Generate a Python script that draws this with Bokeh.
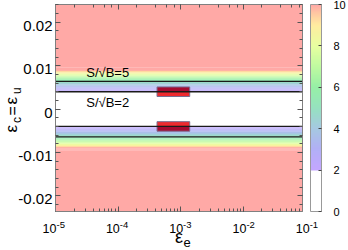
import math
import numpy as np
from bokeh.plotting import figure
from bokeh.layouts import row, column
from bokeh.models import (LogAxis, LinearAxis, ColorBar, LinearColorMapper,
                          ColumnDataSource, FixedTicker, Range1d, LogTicker)
from bokeh.core.properties import value
from bokeh.embed import file_html
from bokeh.resources import INLINE

# ---------------- data ----------------
# |eps_c| band edges and the S/sqrt(B) value in each band (symmetric in eps_c)
band_edges = [0.0, 0.0035, 0.00375, 0.004, 0.00425, 0.0045, 0.00475, 0.005, 0.00525,
              0.0055, 0.00575, 0.006, 0.00625, 0.0065, 0.00675, 0.007, 0.00725, 0.0075,
              0.00775, 0.008, 0.00825, 0.0085, 0.00875, 0.009, 0.00925, 0.0095, 0.025]
band_sig = [1.0, 1.64, 1.88, 2.13, 2.39, 2.67, 2.97, 3.28, 3.61, 3.96, 4.31, 4.69, 5.08,
            5.49, 5.91, 6.35, 6.80, 7.27, 7.75, 8.25, 8.77, 9.30, 9.85, 10.4, 11.0, 12.0]
eps_e_range = [1e-5, 0.089]
eps_c_range = [-0.0236, 0.0241]
contour_labels = ["S/\u221aB=5", "S/\u221aB=2"]
contour_eps = [0.0064, 0.0040]
label_x = [3.1e-5, 3.1e-5]
label_y = [0.00845, 0.00155]
box_x = [4.2e-4, 1.4e-3]
box_inner = [0.0029, 0.0040]
box_outer = [0.0040, 0.0051]
y_ticks = [-0.02, -0.01, 0.0, 0.01, 0.02]
y_tick_labels = ["-0.02", "-0.01", "0", "0.01", "0.02"]
x_ticks = [1e-5, 1e-4, 1e-3, 1e-2, 1e-1]
x_tick_base = ["10", "10", "10", "10", "10"]
x_tick_exp = ["-5", "-4", "-3", "-2", "-1"]
cbar_ticks = [0, 2, 4, 6, 8, 10]

FONT = "Liberation Sans"

# ---------------- palette ----------------
anchors = [(2.0, (196, 166, 255)), (3.0, (178, 176, 246)), (4.0, (166, 200, 226)),
           (5.0, (150, 226, 192)), (6.0, (150, 240, 166)), (7.0, (192, 250, 160)),
           (8.0, (232, 255, 160)), (9.0, (255, 236, 160)), (9.5, (255, 205, 162)),
           (10.0, (255, 168, 166))]
N = 250
palette = []
for i in range(N):
    v = (i + 0.5) * 10.0 / N
    if v < 2.0:
        palette.append("#ffffff")
        continue
    for (v0, c0), (v1, c1) in zip(anchors[:-1], anchors[1:]):
        if v0 <= v <= v1:
            t = (v - v0) / (v1 - v0)
            c = tuple(int(round(a + (b - a) * t)) for a, b in zip(c0, c1))
            break
    else:
        c = anchors[-1][1]
    palette.append("#%02x%02x%02x" % c)

mapper = LinearColorMapper(palette=palette, low=0, high=10, high_color=palette[-1])

# ---------------- layout geometry (page pixels) ----------------
W, H = 348, 250
YLW = 53            # width of the strip holding y tick labels and y title
MH = 218            # height of the main row
FL, FT, FR, FB = 55, 4, 305, 211

def strip(width, height, **kw):
    f = figure(width=width, height=height, output_backend="svg", toolbar_location=None,
               **kw)
    f.axis.visible = False
    f.grid.visible = False
    f.outline_line_color = None
    f.background_fill_color = None
    f.border_fill_color = None
    return f

def ydata(py):
    return eps_c_range[1] - (py - FT) / (FB - FT) * (eps_c_range[1] - eps_c_range[0])

# ---------------- main plot ----------------
p = figure(width=W - YLW, height=MH, x_axis_type="log",
           x_range=Range1d(eps_e_range[0], eps_e_range[1]),
           y_range=Range1d(eps_c_range[0], eps_c_range[1]),
           output_backend="svg", toolbar_location=None,
           min_border_left=FL - YLW, min_border_right=W - FR, min_border_top=FT,
           min_border_bottom=MH - FB)
p.grid.visible = False
p.outline_line_color = "#808080"
p.background_fill_color = "white"

lefts, rights, bottoms, tops, sigs = [], [], [], [], []
for lo, hi, s in zip(band_edges[:-1], band_edges[1:], band_sig):
    for b, t in ((lo, hi), (-hi, -lo)):
        lefts.append(eps_e_range[0]); rights.append(eps_e_range[1])
        bottoms.append(b); tops.append(t); sigs.append(s)
src = ColumnDataSource(dict(left=lefts, right=rights, bottom=bottoms, top=tops, sig=sigs))
p.quad(left="left", right="right", bottom="bottom", top="top", source=src,
       fill_color={"field": "sig", "transform": mapper}, line_color=None)

for sgn in (1, -1):
    lo_in, hi_in = sorted((sgn * box_inner[0], sgn * box_inner[1]))
    lo_out, hi_out = sorted((sgn * box_outer[0], sgn * box_outer[1]))
    p.quad(left=box_x[0], right=box_x[1], bottom=lo_in, top=hi_in,
           fill_color="#ee2a2e", line_color=None)
    p.quad(left=box_x[0], right=box_x[1], bottom=lo_out, top=hi_out,
           fill_color="#a50a30", line_color=None)
    p.quad(left=box_x[0], right=box_x[1], bottom=min(lo_in, lo_out), top=max(hi_in, hi_out),
           fill_color=None, line_color="#7a6e90", line_width=1)

for c in contour_eps:
    for sgn in (1, -1):
        p.line(x=eps_e_range, y=[sgn * c, sgn * c], line_color="#1a1a1a", line_width=1.3)

p.text(x=label_x, y=label_y, text=contour_labels, text_font=value(FONT),
       text_font_size="13px", text_baseline="middle", text_align="left", text_color="black")

def style_axis(ax):
    ax.axis_line_color = "#808080"
    ax.major_tick_line_color = "#555555"
    ax.minor_tick_line_color = "#555555"
    ax.major_tick_in = 5
    ax.major_tick_out = 0
    ax.minor_tick_in = 3
    ax.minor_tick_out = 0
    ax.major_label_text_font_size = "1px"
    ax.major_label_text_color = None
    ax.major_label_standoff = 0

minor_y = [round(-0.024 + 0.002 * i, 4) for i in range(25)]
p.yaxis.ticker = FixedTicker(ticks=y_ticks, minor_ticks=minor_y)
style_axis(p.yaxis[0])
style_axis(p.xaxis[0])

ax_top = LogAxis(ticker=LogTicker())
style_axis(ax_top)
p.add_layout(ax_top, "above")
ax_right = LinearAxis(ticker=FixedTicker(ticks=y_ticks, minor_ticks=minor_y))
style_axis(ax_right)
p.add_layout(ax_right, "right")

cb = ColorBar(color_mapper=mapper, width=11, padding=0, margin=0, location=(8, 0),
              ticker=FixedTicker(ticks=cbar_ticks),
              major_label_text_font=FONT, major_label_text_font_size="11px",
              major_label_text_color="black", bar_line_color="#999999",
              major_tick_line_color="#444444", major_tick_in=3, major_tick_out=0,
              label_standoff=12, background_fill_color=None, border_line_color=None)
p.add_layout(cb, "right")

# ---------------- left strip: y tick labels + y title ----------------
yl = strip(YLW, MH, x_range=Range1d(0, YLW),
           y_range=Range1d(eps_c_range[0], eps_c_range[1]),
           min_border_left=0, min_border_right=0, min_border_top=FT,
           min_border_bottom=MH - FB)
yl.text(x=[52] * len(y_ticks), y=y_ticks, text=y_tick_labels, text_font=value(FONT),
        text_font_size="15px", text_align="right", text_baseline="middle",
        y_offset=3.5, text_color="black")
yt_text = ["\u03b5", "c", "=", "\u03b5", "u"]
yt_px = [10.5, 16.5, 11.5, 10.5, 16.8]          # centre line x on the page
yt_py = [132.0, 122.5, 115.0, 104.0, 93.5]      # start y on the page
yt_size = ["17px", "12px", "16px", "17px", "12px"]
yl.text(x=yt_px, y=[ydata(v) for v in yt_py], text=yt_text, text_font=value(FONT),
        text_font_size=yt_size, angle=math.pi / 2, text_align="left",
        text_baseline="middle", text_color="black")

# ---------------- bottom strip: x tick labels + x title ----------------
XH = H - MH
dpp = math.log10(eps_e_range[1] / eps_e_range[0]) / (FR - FL)
xlo = 10 ** (math.log10(eps_e_range[0]) - FL * dpp)
xhi = 10 ** (math.log10(eps_e_range[1]) + (W - FR) * dpp)
xl = strip(W, XH, x_axis_type="log", x_range=Range1d(xlo, xhi), y_range=Range1d(0, XH),
           min_border_left=0, min_border_right=0, min_border_top=0, min_border_bottom=0)
xl.text(x=x_ticks, y=[H - 227.6] * len(x_ticks), text=x_tick_base, text_font=value(FONT),
        text_font_size="12.5px", text_align="right", text_baseline="middle",
        x_offset=1, text_color="black")
xl.text(x=x_ticks, y=[H - 224.0] * len(x_ticks), text=x_tick_exp, text_font=value(FONT),
        text_font_size="9.5px", text_align="left", text_baseline="middle",
        x_offset=1, text_color="black")
xl.text(x=[1e-3], y=[H - 236.3], text=["\u03b5"], text_font=value(FONT),
        text_font_size="18px", text_align="right", text_baseline="middle",
        x_offset=1, text_color="black")
xl.text(x=[1e-3], y=[H - 242.1], text=["e"], text_font=value(FONT),
        text_font_size="13px", text_align="left", text_baseline="middle",
        x_offset=1.5, text_color="black")

layout = column(row(yl, p), xl)
open("out.html", "w").write(file_html(layout, INLINE))
